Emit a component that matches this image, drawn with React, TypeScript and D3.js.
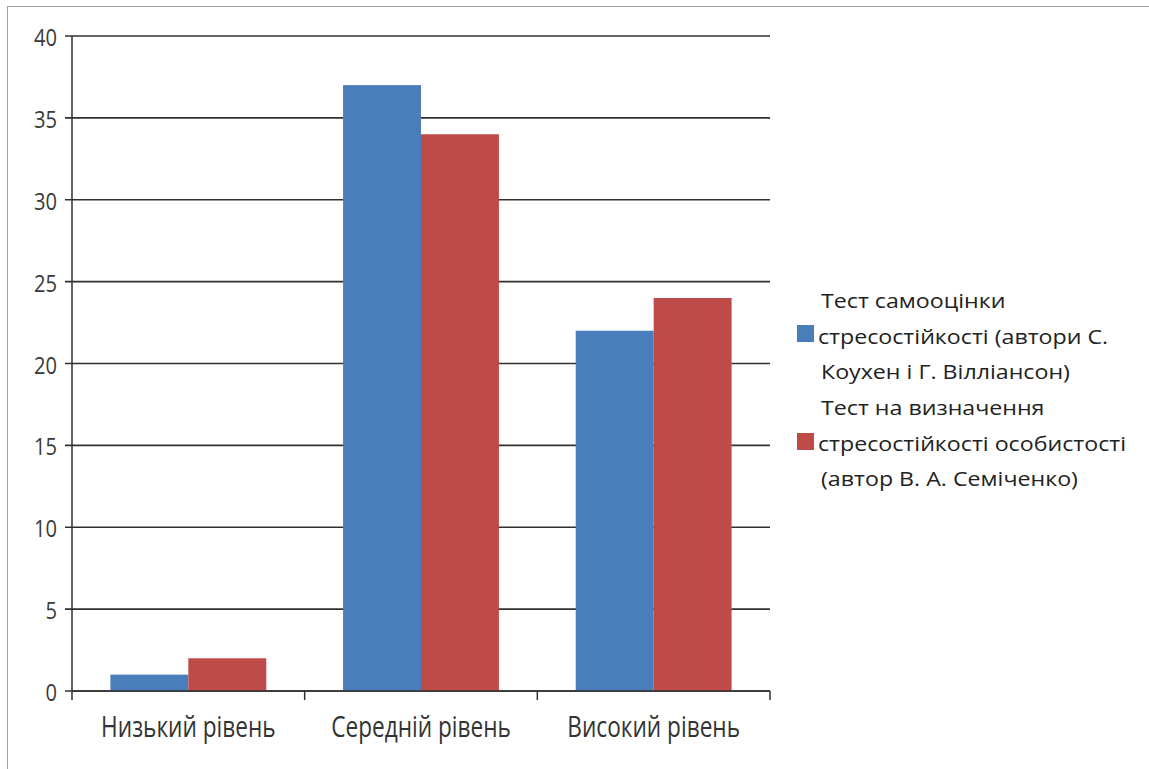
import React from "react";
import * as d3 from "d3";

const categories = ["Низький рівень", "Середній рівень", "Високий рівень"];
const series1Values = [1, 37, 22];
const series2Values = [2, 34, 24];
const seriesNames = [
  ["Тест самооцінки", "стресостійкості (автори С.", "Коухен і Г. Вілліансон)"],
  ["Тест на визначення", "стресостійкості особистості", "(автор В. А. Семіченко)"],
];
const seriesColors = ["#4a7ebb", "#be4b48"];
const yTicks = [0, 5, 10, 15, 20, 25, 30, 35, 40];

const W = 1149;
const H = 769;
const plot = { left: 72, right: 770, top: 36, bottom: 691 };
const FONT = "'Open Sans', sans-serif";

function T({ x, y, anchor = "start", size, sx = 1, fill = "#333", children }: any) {
  return (
    <g transform={`translate(${x},${y}) scale(${sx},1)`}>
      <text x={0} y={0} textAnchor={anchor} fontSize={size} fontFamily={FONT} fill={fill}>
        {children}
      </text>
    </g>
  );
}

export default function App() {
  const y = d3.scaleLinear().domain([0, 40]).range([plot.bottom, plot.top]);
  const x0 = d3.scaleBand<string>().domain(categories).range([plot.left, plot.right]).paddingInner(0.33).paddingOuter(0.165);
  const catScale = d3.scaleBand<string>().domain(categories).range([plot.left, plot.right]);
  const x1 = d3.scaleBand<number>().domain([0, 1]).range([0, x0.bandwidth()]);
  const all = [series1Values, series2Values];

  return (
    <svg width={W} height={H} style={{ position: "absolute", left: 0, top: 0, background: "#fff" }}>
      <rect x={7.5} y={6.5} width={W} height={H} fill="#fff" stroke="#a0a0a0" strokeWidth={1} />
      {yTicks.map((t) => (
        <g key={t}>
          <line x1={plot.left - 7} x2={plot.right} y1={y(t)} y2={y(t)} stroke="#303030" strokeWidth={1.6} />
          <T x={57} y={y(t) + 10} anchor="end" size={24} sx={0.84} fill="#3a3a3a">{t}</T>
        </g>
      ))}
      {all.map((vals, si) =>
        categories.map((c, ci) => (
          <rect
            key={`${si}-${ci}`}
            x={(x0(c) as number) + (x1(si) as number)}
            y={y(vals[ci])}
            width={x1.bandwidth()}
            height={y(0) - y(vals[ci])}
            fill={seriesColors[si]}
          />
        ))
      )}
      <line x1={plot.left} x2={plot.left} y1={plot.top} y2={plot.bottom} stroke="#303030" strokeWidth={1.5} />
      <line x1={plot.left} x2={plot.right} y1={plot.bottom} y2={plot.bottom} stroke="#303030" strokeWidth={1.5} />
      {[...categories.map((c) => catScale(c) as number), plot.right].map((xv, i) => (
        <line key={i} x1={xv} x2={xv} y1={plot.bottom} y2={plot.bottom + 9} stroke="#303030" strokeWidth={1.5} />
      ))}
      {categories.map((c) => (
        <T key={c} x={(catScale(c) as number) + catScale.bandwidth() / 2} y={737} anchor="middle" size={29} sx={0.78} fill="#333">
          {c}
        </T>
      ))}
      {seriesNames.map((lines, si) => (
        <g key={si}>
          <rect x={797} y={325 + si * 108} width={17} height={17} fill={seriesColors[si]} />
          {lines.map((l, li) => (
            <T key={li} x={li === 1 ? 818 : 821} y={308 + si * 107 + li * 35.5} size={20} sx={1.16} fill="#222">
              {l}
            </T>
          ))}
        </g>
      ))}
    </svg>
  );
}
